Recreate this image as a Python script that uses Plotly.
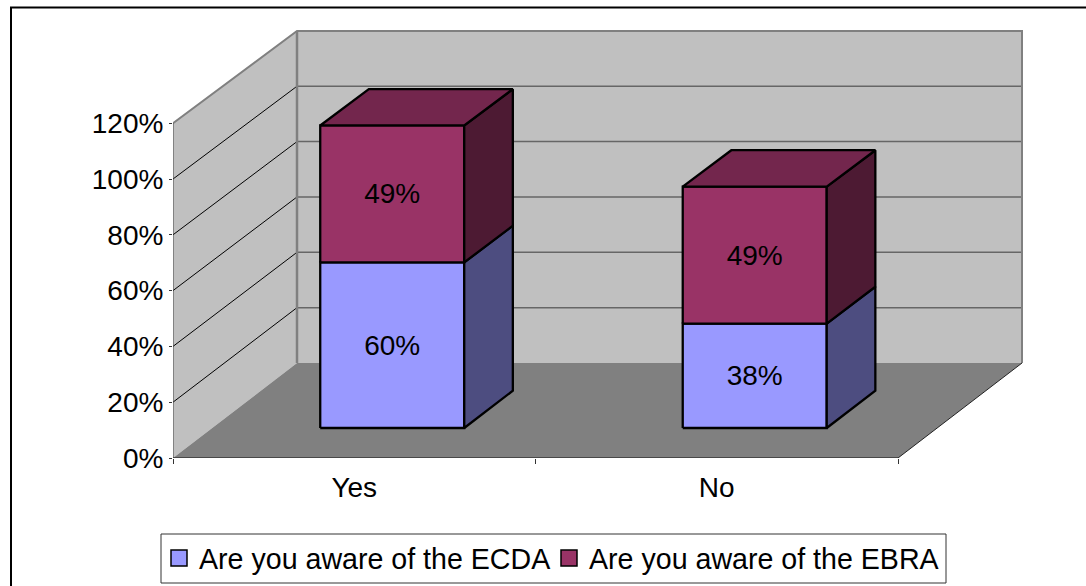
import plotly.graph_objects as go

categories = ["Yes", "No"]
series_names = ["Are you aware of the ECDA", "Are you aware of the EBRA"]
ecda_values = [59.5, 37.5]
ebra_values = [49.2, 49.2]
y_ticks = [0, 20, 40, 60, 80, 100, 120]

FACE = ["#9999FF", "#993366"]
SIDE = ["#4D4D80", "#4D1A33"]
TOP = ["#4D4D80", "#73264D"]
WALL = "#C0C0C0"
FLOOR = "#808080"
EDGE = "#808080"
FONT = "Liberation Sans"

W, H = 1086, 586
X_UNIT = 362.5      # px per category
Y_UNIT = 2.79       # px per percent
DEPTH_X = 124 / X_UNIT
DEPTH_Y = 95 / Y_UNIT
SHRINK = 0.008      # slight vertical foreshortening towards the back wall
AX_LEFT, AX_BOTTOM, AX_RIGHT, AX_TOP = 173, 458, 1040, 20
BAR_WIDTH = 144 / X_UNIT
BAR_SHIFT = -1.2 / X_UNIT
BAR_D0, BAR_D1 = 0.316, 0.708
LABEL_DY = -2.5 / Y_UNIT
YMAX = y_ticks[-1]


def pt(cat, val, depth):
    return cat + depth * DEPTH_X, val * (1 - SHRINK * depth) + depth * DEPTH_Y


def poly(points, fill, line="rgba(0,0,0,0)", width=0):
    xs, ys = zip(*(points + points[:1]))
    return go.Scatter(x=xs, y=ys, mode="lines", fill="toself", fillcolor=fill,
                      line=dict(color=line, width=width), hoverinfo="skip",
                      showlegend=False)


def seg(points, color, width):
    xs, ys = zip(*points)
    return go.Scatter(x=xs, y=ys, mode="lines", line=dict(color=color, width=width),
                      hoverinfo="skip", showlegend=False)


n = len(categories)
traces = []
# walls and floor
traces.append(poly([pt(0, 0, 0), pt(0, YMAX, 0), pt(0, YMAX, 1), pt(0, 0, 1)], WALL))
traces.append(poly([pt(0, 0, 1), pt(0, YMAX, 1), pt(n, YMAX, 1), pt(n, 0, 1)], WALL))
traces.append(poly([pt(0, 0, 0), pt(n, 0, 0), pt(n, 0, 1), pt(0, 0, 1)], FLOOR))
# gridlines
for v in y_ticks[1:-1]:
    traces.append(seg([pt(0, v, 0), pt(0, v, 1)], "#000000", 1))
    traces.append(seg([pt(0, v, 1), pt(n, v, 1)], "#666666", 1.5))
# wall edges
traces.append(seg([pt(0, YMAX, 0), pt(0, YMAX, 1), pt(n, YMAX, 1), pt(n, 0, 1)], EDGE, 2))
traces.append(seg([pt(0, 0, 1), pt(0, YMAX, 1)], EDGE, 2.5))
traces.append(seg([pt(n, 0, 1), pt(n, 0, 0)], "#222222", 1))
# axis lines
traces.append(seg([pt(0, 0, 0), pt(0, YMAX, 0)], "#444444", 1))
traces.append(seg([pt(0, 0, 0), pt(n, 0, 0)], "#111111", 1))

# stacked bars
label_x, label_y, label_t = [], [], []
for i in range(n):
    mid = i + 0.5 + BAR_SHIFT
    c0 = mid - BAR_WIDTH / 2
    c1 = mid + BAR_WIDTH / 2
    base = 0
    for s, vals in enumerate([ecda_values, ebra_values]):
        v = vals[i]
        lo, hi = base, base + v
        traces.append(poly([pt(c0, lo, BAR_D0), pt(c1, lo, BAR_D0), pt(c1, hi, BAR_D0), pt(c0, hi, BAR_D0)],
                           FACE[s], "#000000", 2.3))
        traces.append(poly([pt(c1, lo, BAR_D0), pt(c1, lo, BAR_D1), pt(c1, hi, BAR_D1), pt(c1, hi, BAR_D0)],
                           SIDE[s], "#000000", 2.3))
        if s == 1:
            traces.append(poly([pt(c0, hi, BAR_D0), pt(c1, hi, BAR_D0), pt(c1, hi, BAR_D1), pt(c0, hi, BAR_D1)],
                               TOP[s], "#000000", 2.3))
        lx, ly = pt(mid, (lo + hi) / 2, BAR_D0)
        label_x.append(lx)
        label_y.append(ly + LABEL_DY)
        label_t.append(f"{v:.0f}%")
        base = hi

traces.append(go.Scatter(x=label_x, y=label_y, text=label_t, mode="text",
                         textposition="middle center",
                         textfont=dict(family=FONT, size=28, color="#000000"),
                         hoverinfo="skip", showlegend=False))

# legend entries
for s, name in enumerate(series_names):
    traces.append(go.Scatter(x=[None], y=[None], mode="markers", name=name,
                             marker=dict(symbol="square", size=19, color=FACE[s],
                                         line=dict(color="#000000", width=1.5))))

fig = go.Figure(traces)
fig.update_layout(
    width=W, height=H, autosize=False,
    margin=dict(l=0, r=0, t=0, b=0, autoexpand=False),
    paper_bgcolor="white", plot_bgcolor="rgba(0,0,0,0)",
    font=dict(family=FONT, size=28, color="#000000"),
    xaxis=dict(
        domain=[AX_LEFT / W, AX_RIGHT / W],
        range=[0, (AX_RIGHT - AX_LEFT) / X_UNIT],
        showgrid=False, zeroline=False, showline=False,
        tickvals=[i + 0.5 for i in range(n)], ticktext=categories,
        ticks="", ticklabelstandoff=10,
        minor=dict(tickmode="array", tickvals=list(range(n + 1)), ticks="outside",
                   ticklen=5, tickcolor="#333333", tickwidth=1, showgrid=False),
    ),
    yaxis=dict(
        domain=[(H - AX_BOTTOM) / H, (H - AX_TOP) / H],
        range=[0, (AX_BOTTOM - AX_TOP) / Y_UNIT],
        showgrid=False, zeroline=False, showline=False,
        tickvals=y_ticks, ticktext=[f"{v}%" for v in y_ticks],
        ticks="outside", ticklen=3, tickcolor="#333333", tickwidth=1,
    ),
    legend=dict(orientation="h", x=159 / W, y=1 - 533 / H, xanchor="left", yanchor="top",
                borderwidth=0, bgcolor="rgba(0,0,0,0)", entrywidth=345, entrywidthmode="pixels",
                font=dict(family=FONT, size=28.6), itemclick=False, itemdoubleclick=False),
    shapes=[
        dict(type="rect", xref="paper", yref="paper", x0=11 / W, x1=1.01,
             y0=-0.01, y1=1 - 7.5 / H, line=dict(color="#000000", width=2)),
        dict(type="rect", xref="paper", yref="paper", x0=161 / W, x1=946 / W,
             y0=1 - 583 / H, y1=1 - 534 / H, line=dict(color="#333333", width=1)),
    ],
)
fig.write_html("out.html", config={"displayModeBar": False},
               post_script="document.body.style.margin='0';")
